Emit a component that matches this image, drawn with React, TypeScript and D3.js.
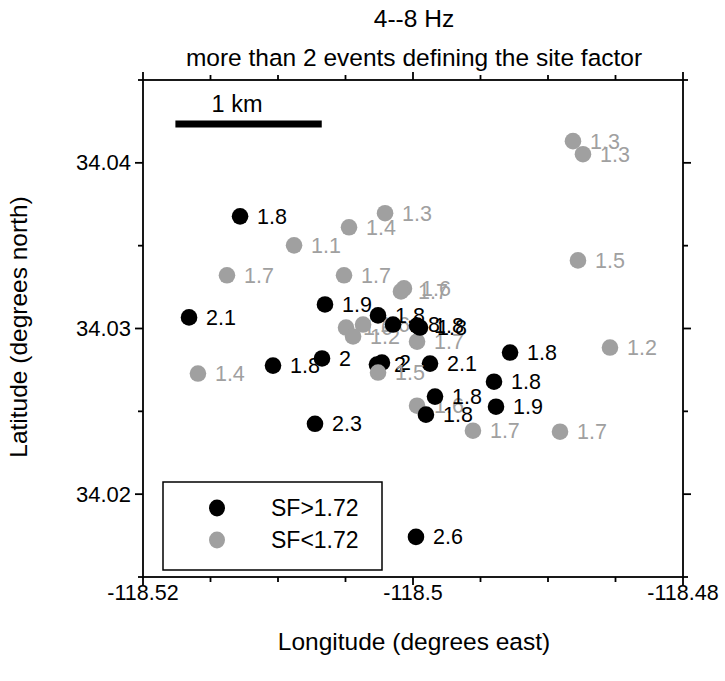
import React from "react";
import * as d3 from "d3";

// ---- data (longitude, latitude, site factor) ----
const lon: number[] = [
  -118.48815, -118.48741, -118.50207, -118.50474, -118.50881, -118.51378, -118.50511,
  -118.50067, -118.50089, -118.50496, -118.50444, -118.5037, -118.4997, -118.4997,
  -118.49556, -118.48911, -118.48778, -118.48541, -118.51593,
  -118.51281, -118.51659, -118.50652, -118.51037, -118.50674, -118.50726, -118.50259,
  -118.50148, -118.4997, -118.49948, -118.50267, -118.5023, -118.49874, -118.49281,
  -118.494, -118.49385, -118.49837, -118.49904, -118.49978,
  -118.50259,
];
const lat: number[] = [
  34.04131, 34.04052, 34.03696, 34.03611, 34.03502, 34.03321, 34.03321,
  34.03242, 34.03224, 34.03006, 34.02952, 34.03024, 34.02921, 34.02534,
  34.02383, 34.02377, 34.03411, 34.02885, 34.02728,
  34.03677, 34.03067, 34.03145, 34.02776, 34.02819, 34.02425, 34.03079,
  34.03024, 34.03018, 34.03006, 34.02782, 34.02794, 34.02788, 34.02855,
  34.02679, 34.02528, 34.02589, 34.0248, 34.01742,
  34.02734,
];
const sf: number[] = [
  1.3, 1.3, 1.3, 1.4, 1.1, 1.7, 1.7,
  1.6, 1.7, 1.6, 1.2, 1.6, 1.7, 1.6,
  1.7, 1.7, 1.5, 1.2, 1.4,
  1.8, 2.1, 1.9, 1.8, 2.0, 2.3, 1.8,
  1.8, 1.8, 1.8, 2.0, 2.0, 2.1, 1.8,
  1.8, 1.9, 1.8, 1.8, 2.6,
  1.5,
];
const threshold = 1.72;
const xDomain: [number, number] = [-118.52, -118.48];
const yDomain: [number, number] = [34.015, 34.045];
const xMajorTicks = [-118.52, -118.5, -118.48];
const xTickLabels = ["-118.52", "-118.5", "-118.48"];
const yMajorTicks = [34.02, 34.03, 34.04];
const yTickLabels = ["34.02", "34.03", "34.04"];
const legendLabels = ["SF>1.72", "SF<1.72"];
const scaleBarStart: [number, number] = [-118.5176, 34.04235];
const scaleBarKm = 1;

const FONT = "'Liberation Sans', Arial, Helvetica, sans-serif";
const BLACK = "#000000";
const GREY = "#a0a0a0";

export default function App() {
  const W = 725, H = 681;
  const left = 143, right = 683, top = 80, bottom = 577;
  const x = d3.scaleLinear().domain(xDomain).range([left, right]);
  const y = d3.scaleLinear().domain(yDomain).range([bottom, top]);

  const xMinor = d3.range(xDomain[0], xDomain[1] + 1e-9, 0.005);
  const yMinor = d3.range(yDomain[0], yDomain[1] + 1e-9, 0.005);
  const isMajor = (v: number, arr: number[]) => arr.some((a) => Math.abs(a - v) < 1e-7);

  const kmDeg = scaleBarKm / (111.32 * Math.cos((scaleBarStart[1] * Math.PI) / 180));
  const sbX0 = x(scaleBarStart[0]);
  const sbX1 = x(scaleBarStart[0] + kmDeg);
  const sbY = y(scaleBarStart[1]);

  const pts = lon.map((lo, i) => ({ lo, la: lat[i], s: sf[i] }));
  const fmt = (v: number) => String(+v.toFixed(1));

  const major = 8, minor = 5;

  return (
    <svg width={W} height={H} style={{ position: "absolute", left: 0, top: 0, background: "#fff" }} fontFamily={FONT}>
      <rect x={0} y={0} width={W} height={H} fill="#fff" />
      {/* titles */}
      <text x={414} y={27} textAnchor="middle" fontSize={24.5}>4--8 Hz</text>
      <text x={414} y={66} textAnchor="middle" fontSize={24.5}>more than 2 events defining the site factor</text>

      {/* points */}
      {pts.map((p, i) => {
        const c = p.s > threshold ? BLACK : GREY;
        const cx = x(p.lo), cy = y(p.la);
        return (
          <g key={i}>
            <circle cx={cx} cy={cy} r={8.3} fill={c} />
            <text x={cx + 17} y={cy + 7.5} fontSize={21.5} fill={c}>{fmt(p.s)}</text>
          </g>
        );
      })}

      {/* scale bar */}
      <line x1={sbX0} x2={sbX1} y1={sbY} y2={sbY} stroke="#000" strokeWidth={7} />
      <text x={237} y={112} textAnchor="middle" fontSize={23.5}>1 km</text>

      {/* legend */}
      <rect x={163} y={482} width={219} height={88} fill="#fff" stroke="#000" strokeWidth={1.5} />
      {legendLabels.map((t, i) => (
        <g key={t}>
          <ellipse cx={217} cy={508 + i * 32} rx={8} ry={8.5} fill={i === 0 ? BLACK : GREY} />
          <text x={271} y={516 + i * 32} fontSize={23}>{t}</text>
        </g>
      ))}

      {/* frame */}
      <rect x={left} y={top} width={right - left} height={bottom - top} fill="none" stroke="#000" strokeWidth={1.8} />
      {xMinor.map((v, i) => {
        const len = isMajor(v, xMajorTicks) ? major : minor;
        return (
          <g key={"xt" + i}>
            <line x1={x(v)} x2={x(v)} y1={bottom} y2={bottom + len} stroke="#000" strokeWidth={1.8} />
            <line x1={x(v)} x2={x(v)} y1={top} y2={top - len} stroke="#000" strokeWidth={1.8} />
          </g>
        );
      })}
      {yMinor.map((v, i) => {
        const len = isMajor(v, yMajorTicks) ? major : minor;
        return (
          <g key={"yt" + i}>
            <line x1={left} x2={left - len} y1={y(v)} y2={y(v)} stroke="#000" strokeWidth={1.8} />
            <line x1={right} x2={right + len} y1={y(v)} y2={y(v)} stroke="#000" strokeWidth={1.8} />
          </g>
        );
      })}
      {xMajorTicks.map((v, i) => (
        <text key={"xl" + i} x={x(v)} y={600} textAnchor="middle" fontSize={21.5}>{xTickLabels[i]}</text>
      ))}
      {yMajorTicks.map((v, i) => (
        <text key={"yl" + i} x={131} y={y(v) + 7.5} textAnchor="end" fontSize={22}>{yTickLabels[i]}</text>
      ))}
      <text x={414} y={650} textAnchor="middle" fontSize={24.5}>Longitude (degrees east)</text>
      <text transform={`translate(27,327) rotate(-90)`} textAnchor="middle" fontSize={24.5}>Latitude (degrees north)</text>
    </svg>
  );
}
